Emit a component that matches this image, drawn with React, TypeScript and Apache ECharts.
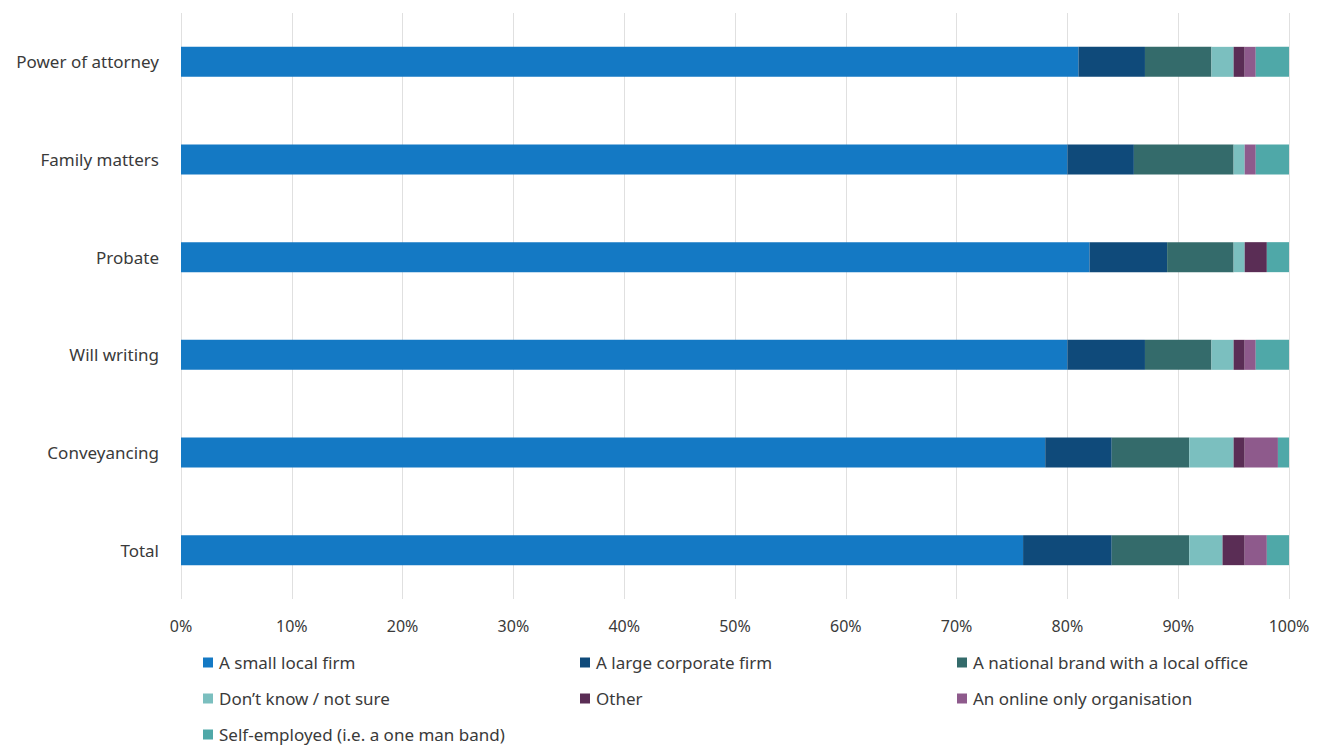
import React, { useEffect, useRef } from "react";
import * as echarts from "echarts";

const categories = ["Power of attorney", "Family matters", "Probate", "Will writing", "Conveyancing", "Total"];
const seriesNames = [
  "A small local firm",
  "A large corporate firm",
  "A national brand with a local office",
  "Don\u2019t know / not sure",
  "Other",
  "An online only organisation",
  "Self-employed (i.e. a one man band)",
];
const smallLocal = [81, 80, 82, 80, 78, 76];
const largeCorporate = [6, 6, 7, 7, 6, 8];
const nationalBrand = [6, 9, 6, 6, 7, 7];
const dontKnow = [2, 1, 1, 2, 4, 3];
const other = [1, 0, 2, 1, 1, 2];
const onlineOnly = [1, 1, 0, 1, 3, 2];
const selfEmployed = [3, 3, 2, 3, 1, 2];
const xTicks = [0, 10, 20, 30, 40, 50, 60, 70, 80, 90, 100];

const colors = ["#1479c4", "#0f4a7a", "#346b6b", "#7bbfbf", "#5a2d55", "#8e5a8c", "#4fa8a8"];
const seriesData = [smallLocal, largeCorporate, nationalBrand, dontKnow, other, onlineOnly, selfEmployed];

const legendPos: [number, number][] = [
  [203, 654],
  [580, 654],
  [957, 654],
  [203, 690],
  [580, 690],
  [957, 690],
  [203, 726],
];

export default function App() {
  const ref = useRef<HTMLDivElement>(null);
  useEffect(() => {
    document.body.style.margin = "0";
    const chart = echarts.init(ref.current!, undefined, { renderer: "svg" });
    const font = "'Noto Sans', 'Open Sans', sans-serif";
    chart.setOption({
      animation: false,
      textStyle: { fontFamily: font },
      grid: { left: 181, right: 42, top: 13, height: 586, containLabel: false },
      legend: seriesNames.map((n, i) => ({
        data: [n],
        left: legendPos[i][0],
        top: legendPos[i][1],
        icon: "rect",
        itemWidth: 10,
        itemHeight: 10,
        itemGap: 0,
        padding: 0,
        textStyle: { fontSize: 17, color: "#3a3a3a", fontFamily: font, padding: [0, 0, 0, 1] },
        selectedMode: false,
      })),
      xAxis: {
        type: "value",
        min: 0,
        max: 100,
        interval: 10,
        axisLine: { show: false },
        axisTick: { show: false },
        splitLine: { show: true, lineStyle: { color: "#e0e0e0", width: 1 } },
        axisLabel: {
          margin: 19,
          fontSize: 16,
          color: "#3a3a3a",
          fontFamily: font,
          formatter: (v: number) => (xTicks.includes(v) ? v + "%" : ""),
        },
      },
      yAxis: {
        type: "category",
        data: categories,
        inverse: true,
        axisLine: { show: false },
        axisTick: { show: false },
        axisLabel: { margin: 22, fontSize: 17, color: "#3a3a3a", fontFamily: font },
      },
      series: seriesNames.map((n, i) => ({
        name: n,
        type: "bar",
        stack: "total",
        barWidth: 30,
        itemStyle: { color: colors[i] },
        data: seriesData[i],
      })),
    });
    return () => chart.dispose();
  }, []);
  return <div ref={ref} style={{ width: 1331, height: 754 }} />;
}
